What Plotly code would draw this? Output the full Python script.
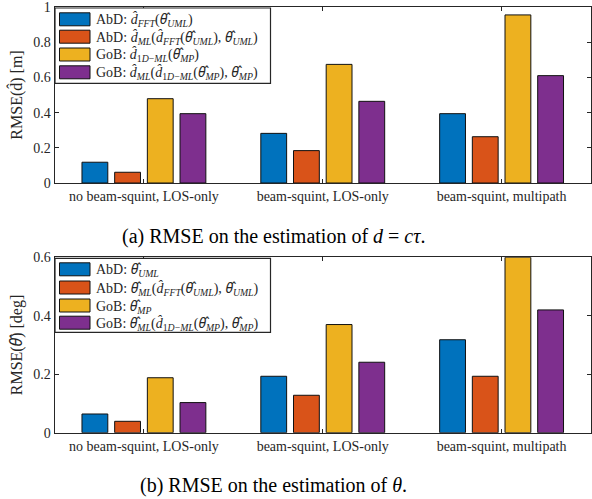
import plotly.graph_objects as go

# ---------------- data ----------------
categories = ["no beam-squint, LOS-only", "beam-squint, LOS-only", "beam-squint, multipath"]

d_abd_fft = [0.118, 0.282, 0.394]
d_abd_ml = [0.061, 0.184, 0.263]
d_gob_1dml = [0.479, 0.674, 0.955]
d_gob_ml = [0.394, 0.464, 0.610]

th_abd_uml = [0.064, 0.193, 0.318]
th_abd_ml = [0.039, 0.128, 0.193]
th_gob_mp = [0.188, 0.370, 0.600]
th_gob_ml = [0.103, 0.241, 0.420]

TH = "<span style=\"font-family:'Noto Sans'\"><i>θ\u0302</i></span>"
D = "<i>d\u0302</i>"

d_labels = [
    f"AbD: {D}<sub><i>FFT</i></sub>({TH}<sub><i>UML</i></sub>)",
    f"AbD: {D}<sub><i>ML</i></sub>({D}<sub><i>FFT</i></sub>({TH}<sub><i>UML</i></sub>), {TH}<sub><i>UML</i></sub>)",
    f"GoB: {D}<sub>1<i>D</i>−<i>ML</i></sub>({TH}<sub><i>MP</i></sub>)",
    f"GoB: {D}<sub><i>ML</i></sub>({D}<sub>1<i>D</i>−<i>ML</i></sub>({TH}<sub><i>MP</i></sub>), {TH}<sub><i>MP</i></sub>)",
]
th_labels = [
    f"AbD: {TH}<sub><i>UML</i></sub>",
    f"AbD: {TH}<sub><i>ML</i></sub>({D}<sub><i>FFT</i></sub>({TH}<sub><i>UML</i></sub>), {TH}<sub><i>UML</i></sub>)",
    f"GoB: {TH}<sub><i>MP</i></sub>",
    f"GoB: {TH}<sub><i>ML</i></sub>({D}<sub>1<i>D</i>−<i>ML</i></sub>({TH}<sub><i>MP</i></sub>), {TH}<sub><i>MP</i></sub>)",
]

d_ticks = [0, 0.2, 0.4, 0.6, 0.8, 1]
d_ticktext = ["0", "0.2", "0.4", "0.6", "0.8", "1"]
th_ticks = [0, 0.2, 0.4, 0.6]
th_ticktext = ["0", "0.2", "0.4", "0.6"]

colors = ["#0072BD", "#D95319", "#EDB120", "#7E2F8E"]

W, H = 592, 499
FONT = "'Liberation Serif', 'Times New Roman', Times, 'DejaVu Serif', serif"
AX = "#262626"


def px(x):
    return x / W


def py(y):
    return 1 - y / H


fig = go.Figure()

d_series = [d_abd_fft, d_abd_ml, d_gob_1dml, d_gob_ml]
th_series = [th_abd_uml, th_abd_ml, th_gob_mp, th_gob_ml]

for i, (vals, name) in enumerate(zip(d_series, d_labels)):
    fig.add_trace(go.Bar(x=categories, y=vals, name=name, marker_color=colors[i],
                         marker_line=dict(color="#111111", width=1),
                         xaxis="x", yaxis="y", showlegend=False, offsetgroup=str(i)))
for i, (vals, name) in enumerate(zip(th_series, th_labels)):
    fig.add_trace(go.Bar(x=categories, y=vals, name=name, marker_color=colors[i],
                         marker_line=dict(color="#111111", width=1),
                         xaxis="x2", yaxis="y2", showlegend=False, offsetgroup=str(i)))

xdom = [px(54.5), px(591)]
ydom1 = [py(183), py(7)]
ydom2 = [py(432.7), py(257.3)]

common_x = dict(type="category", range=[-0.5, 2.5], showline=True, linecolor=AX, linewidth=1,
                mirror="ticks", ticks="inside", ticklen=4, tickcolor=AX,
                tickfont=dict(family=FONT, size=14, color=AX), showgrid=False, zeroline=False,
                automargin=False, ticklabeloverflow="allow")
common_y = dict(showline=True, linecolor=AX, linewidth=1, mirror="ticks", ticks="inside",
                ticklen=4, tickcolor=AX, tickfont=dict(family=FONT, size=14, color=AX),
                showgrid=False, zeroline=False, automargin=False, ticklabeloverflow="allow")

fig.update_layout(
    width=W, height=H,
    margin=dict(l=0, r=0, t=0, b=0),
    paper_bgcolor="white", plot_bgcolor="white",
    barmode="group", bargap=0.269, bargroupgap=0.21,
    font=dict(family=FONT, color=AX),
    xaxis=dict(domain=xdom, anchor="y", **common_x),
    yaxis=dict(domain=ydom1, anchor="x", range=[0, 1], tickvals=d_ticks, ticktext=d_ticktext,
               title=dict(text="RMSE(d\u0302) [m]", font=dict(family=FONT, size=16, color=AX), standoff=6),
               **common_y),
    xaxis2=dict(domain=xdom, anchor="y2", **common_x),
    yaxis2=dict(domain=ydom2, anchor="x2", range=[0, 0.6], tickvals=th_ticks, ticktext=th_ticktext,
                title=dict(text=f"RMSE({TH}) [deg]", font=dict(family=FONT, size=16, color=AX), standoff=6),
                **common_y),
)

shapes = []
annotations = []


def legend(top, bottom, rows, labels):
    shapes.append(dict(type="rect", xref="paper", yref="paper", x0=px(55), x1=px(270.5),
                       y0=py(bottom), y1=py(top), line=dict(color=AX, width=1.2),
                       fillcolor="white", layer="above"))
    for yc, lab, col in zip(rows, labels, colors):
        shapes.append(dict(type="rect", xref="paper", yref="paper", x0=px(59.5), x1=px(90),
                           y0=py(yc + 6.5), y1=py(yc - 6.5), line=dict(color="#111111", width=1),
                           fillcolor=col, layer="above"))
        annotations.append(dict(xref="paper", yref="paper", x=px(94), y=py(yc), text=lab,
                                showarrow=False, xanchor="left", yanchor="middle",
                                font=dict(family=FONT, size=14, color=AX)))


legend(8, 83.3, [19.3, 36.7, 54.5, 72.3], d_labels)
legend(258.3, 332.3, [269.3, 287.5, 305.5, 322.7], th_labels)

annotations.append(dict(xref="paper", yref="paper", x=px(273), y=py(237),
                        text="(a) RMSE on the estimation of <i>d</i> = <i>cτ</i>.",
                        showarrow=False, xanchor="center", yanchor="middle",
                        font=dict(family=FONT, size=20, color="black")))
annotations.append(dict(xref="paper", yref="paper", x=px(273), y=py(485),
                        text="(b) RMSE on the estimation of <i>θ</i>.",
                        showarrow=False, xanchor="center", yanchor="middle",
                        font=dict(family=FONT, size=20, color="black")))

fig.update_layout(shapes=shapes, annotations=annotations)

fig.write_html("out.html", config={"displayModeBar": False},
               post_script="document.body.style.margin='0px';")
